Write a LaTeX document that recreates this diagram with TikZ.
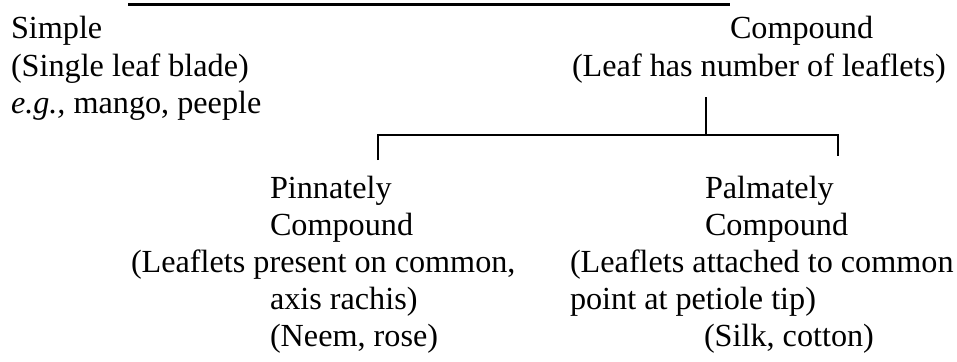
\documentclass[tikz,border=0pt]{standalone}
\usepackage{fontspec}
\setmainfont{Liberation Serif}
\begin{document}
\begin{tikzpicture}[x=1pt,y=-1pt,
  txt/.style={anchor=base west,inner sep=0pt,outer sep=0pt,
              font=\fontsize{32.2}{37}\selectfont},
  rule/.style={line width=3pt,line cap=butt},
  branch/.style={line width=2.6pt,line cap=butt,line join=miter}]
\useasboundingbox (0,0) rectangle (957,361);

% top rule
\coordinate (barL) at (128,5);
\coordinate (barR) at (730,5);
\draw[rule] (barL) -- (barR);

% simple leaf
\node[txt] (simple)  at (11,39)  {Simple};
\node[txt] (simpleA) at (11,76)  {(Single leaf blade)};
\node[txt] (simpleB) at (11,113) {\textit{e.g.,} mango, peeple};

% compound leaf
\node[txt] (comp)  at (730,39) {Compound};
\node[txt] (compA) at (572,76) {(Leaf has number of leaflets)};

% branching of the compound leaf
\coordinate (stemTop) at (706,97);
\coordinate (stemBot) at (706,135);
\coordinate (armL)    at (378,135);
\coordinate (armR)    at (838,135);
\coordinate (dropL)   at (378,160);
\coordinate (dropR)   at (838,156);
\draw[branch] (stemTop) -- (stemBot);
\draw[branch] (dropL) -- (armL) -- (armR) -- (dropR);

% pinnately compound
\node[txt] (pin)  at (270,198) {Pinnately};
\node[txt] (pinA) at (270,235) {Compound};
\node[txt] (pinB) at (131,272) {(Leaflets present on common,};
\node[txt] (pinC) at (270,309) {axis rachis)};
\node[txt] (pinD) at (270,346) {(Neem, rose)};

% palmately compound
\node[txt] (pal)  at (705,198) {Palmately};
\node[txt] (palA) at (705,235) {Compound};
\node[txt] (palB) at (570,272) {(Leaflets attached to common};
\node[txt] (palC) at (570,309) {point at petiole tip)};
\node[txt] (palD) at (704,346) {(Silk, cotton)};
\end{tikzpicture}
\end{document}
